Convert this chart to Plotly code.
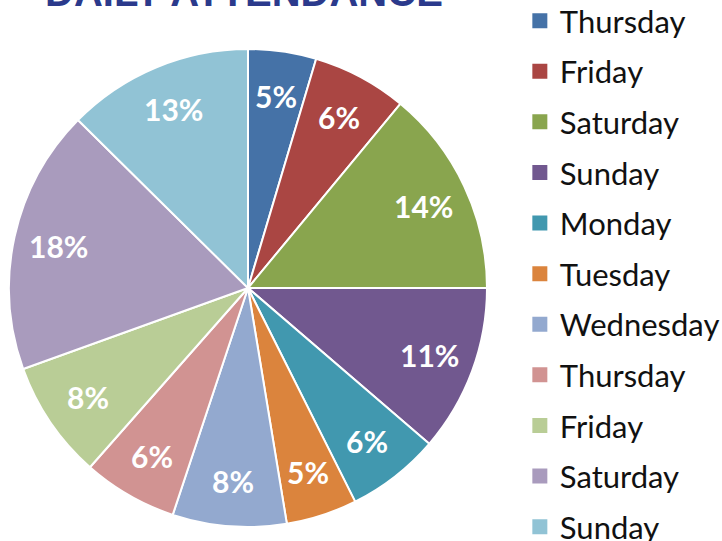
import numpy as np
import plotly.graph_objects as go

days = ["Thursday", "Friday", "Saturday", "Sunday", "Monday", "Tuesday",
        "Wednesday", "Thursday", "Friday", "Saturday", "Sunday"]
attendance = [4.6, 6.4, 14.0, 11.3, 6.3, 4.8, 7.7, 6.4, 8.0, 17.9, 12.6]
colors = ["#4572A7", "#AA4643", "#89A54E", "#71588F", "#4198AF", "#DB843D",
          "#93A9CF", "#D19392", "#B9CD96", "#A99BBD", "#91C3D5"]
title_text = "DAILY ATTENDANCE"

W, H = 722, 541
legend_font = 31
pie_dom_x = [9 / W, 487 / W]
pie_dom_y = [14 / H, 492 / H]
label_radius = 0.81  # fraction of pie radius where percentage labels sit

# unique keys so repeated day names are not merged into one slice
slice_keys = [d + "\u200b" * i for i, d in enumerate(days)]

fig = go.Figure()
fig.add_trace(go.Pie(
    labels=slice_keys,
    values=attendance,
    sort=False,
    direction="clockwise",
    rotation=0,
    showlegend=False,
    marker=dict(colors=colors, line=dict(color="white", width=2)),
    textinfo="none",
    hovertemplate="%{label}: %{percent}<extra></extra>",
    domain=dict(x=pie_dom_x, y=pie_dom_y),
))

# legend entries (one per slice, same colours)
for i, (d, c) in enumerate(zip(days, colors)):
    fig.add_trace(go.Scatter(
        x=[None], y=[None], mode="markers", name=d,
        legendgroup=f"g{i}",
        marker=dict(symbol="square", size=15, color=c),
        hoverinfo="skip",
    ))

# percentage labels placed along each slice's bisector (Excel-style)
vals = np.array(attendance, dtype=float)
frac = vals / vals.sum()
mids = np.cumsum(frac) - frac / 2
cx = (pie_dom_x[0] + pie_dom_x[1]) / 2 * W
cy = (pie_dom_y[0] + pie_dom_y[1]) / 2 * H
R = min((pie_dom_x[1] - pie_dom_x[0]) * W, (pie_dom_y[1] - pie_dom_y[0]) * H) / 2
annotations = []
for f, m in zip(frac, mids):
    th = 2 * np.pi * m
    px = cx + label_radius * R * np.sin(th)
    py = cy + label_radius * R * np.cos(th)
    annotations.append(dict(
        text=f"{round(f * 100):.0f}%", xref="paper", yref="paper",
        x=px / W, y=py / H, xanchor="center", yanchor="middle", showarrow=False,
        font=dict(family="Lato", size=30, color="white", weight="bold"),
    ))

annotations.append(dict(
    text=title_text, xref="paper", yref="paper",
    x=243.5 / W, y=1.0 + 8 / H, xanchor="center", yanchor="middle",
    showarrow=False,
    font=dict(family="Liberation Sans", size=40, color="#2B3A8C", weight="bold"),
))

fig.update_layout(
    width=W, height=H,
    margin=dict(l=0, r=0, t=0, b=0, autoexpand=False),
    paper_bgcolor="white",
    plot_bgcolor="white",
    xaxis=dict(visible=False),
    yaxis=dict(visible=False),
    legend=dict(
        xref="paper", yref="paper",
        x=0.720, y=1.0 + 6 / H, xanchor="left", yanchor="top",
        traceorder="grouped", tracegroupgap=7.3, maxheight=700,
        font=dict(family="Lato", size=legend_font, color="#111111"),
        bgcolor="rgba(0,0,0,0)",
    ),
    annotations=annotations,
)

fig.write_html("out.html",
               config={"displayModeBar": False},
               post_script="document.body.style.margin='0px';document.body.style.overflow='hidden';")
